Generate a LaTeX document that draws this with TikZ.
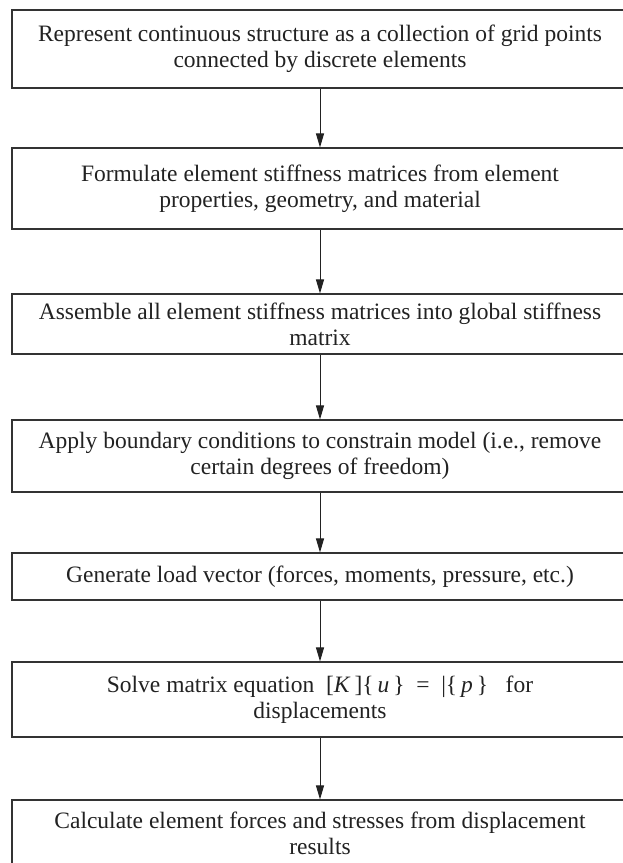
\documentclass[tikz,border=0pt]{standalone}
\usepackage{fontspec}
\setmainfont{Liberation Serif}
\usepackage{xcolor}
\usetikzlibrary{arrows.meta}
\definecolor{ink}{HTML}{222222}
\definecolor{edge}{HTML}{333333}

\begin{document}
\begin{tikzpicture}[x=1pt,y=-1pt,
  stage/.style={draw=edge,line width=1.1pt,minimum width=616pt,inner sep=0pt,
    align=center,text=ink,font=\fontsize{23.5}{26}\selectfont},
  flow/.style={draw=ink,line width=1pt,-{Triangle[width=8pt,length=14pt]}}]
\useasboundingbox[fill=white] (0,0) rectangle (623,863);
\node[stage,minimum height=78pt] (represent) at (320,49) {Represent continuous structure as a collection of grid points\\connected by discrete elements};
\node[stage,minimum height=81pt] (formulate) at (320,188.5) {Formulate element stiffness matrices from element\\properties, geometry, and material};
\node[stage,minimum height=60pt] (assemble) at (320,324) {Assemble all element stiffness matrices into global stiffness\\matrix};
\node[stage,minimum height=72pt] (apply) at (320,456) {Apply boundary conditions to constrain model (i.e., remove\\certain degrees of freedom)};
\node[stage,minimum height=47pt] (load) at (320,576.5) {Generate load vector (forces, moments, pressure, etc.)};
\node[stage,minimum height=75pt] (solve) at (320,699.5) {Solve matrix equation\ \ [\textit{K}\,]\{\,\textit{u}\,\}\ \ =\ \ |\{\,\textit{p}\,\}\ \ \ for\\displacements};
\node[stage,minimum height=66pt] (calculate) at (320,833) {Calculate element forces and stresses from displacement\\results};
% arrows between the steps
\draw[flow] (represent) -- (formulate);
\draw[flow] (formulate) -- (assemble);
\draw[flow] (assemble) -- (apply);
\draw[flow] (apply) -- (load);
\draw[flow] (load) -- (solve);
\draw[flow] (solve) -- (calculate);
\end{tikzpicture}
\end{document}
